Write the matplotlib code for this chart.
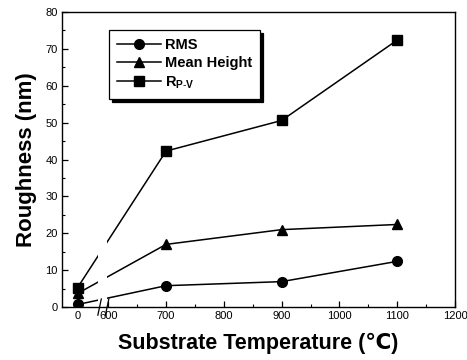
import numpy as np
import matplotlib
matplotlib.use("Agg")
import matplotlib.pyplot as plt

plt.rcParams["font.family"] = ["Liberation Sans", "DejaVu Sans"]
plt.rcParams["mathtext.fontset"] = "custom"
plt.rcParams["mathtext.rm"] = "Liberation Sans"
plt.rcParams["mathtext.bf"] = "Liberation Sans:bold"

# data
temperature = [0, 700, 900, 1100]
rms = [0.7, 5.8, 6.9, 12.4]
mean_height = [3.7, 17.0, 21.0, 22.4]
r_pv = [5.3, 42.3, 50.6, 72.4]

x_ticks = [0, 600, 700, 800, 900, 1000, 1100, 1200]
y_ticks = [0, 10, 20, 30, 40, 50, 60, 70, 80]

# broken axis: 0 is drawn just left of 600
ZERO_POS = 547


def to_pos(t):
    t = np.asarray(t, dtype=float)
    return np.where(t < 600, ZERO_POS + t, t)


fig = plt.figure(figsize=(4.67, 3.6), dpi=100)
ax = fig.add_axes([0.1328, 0.147, 0.8415, 0.8195])

series = [("RMS", rms, "o", 7.0),
          ("Mean Height", mean_height, "^", 7.5),
          (r"R$_{\mathbf{P\text{-}V}}$", r_pv, "s", 6.5)]
for label, vals, mk, ms in series:
    ax.plot(to_pos(temperature), vals, color="black", lw=1.1, marker=mk,
            ms=ms, label=label, zorder=2)

# gap in the connecting lines at the break
ax.axvspan(583, 597, color="white", zorder=2.1, lw=0)

ax.set_xlim(520, 1200)
ax.set_ylim(0, 80)
ax.set_xticks(to_pos(x_ticks))
ax.set_xticklabels([str(t) for t in x_ticks])
ax.set_xticks(np.arange(650, 1200, 100), minor=True)
ax.set_yticks(y_ticks)
ax.set_yticks(np.arange(5, 80, 10), minor=True)
ax.tick_params(direction="in", length=4, width=0.9, labelsize=8, pad=3)
ax.tick_params(which="minor", direction="in", length=2, width=0.8)
for s in ax.spines.values():
    s.set_linewidth(1.0)

# break marks on the x axis
for xb in (585, 598):
    ax.plot([xb - 3, xb + 3], [-2.2, 2.2], color="black", lw=0.9,
            clip_on=False, zorder=3)

ax.set_ylabel("Roughness (nm)", fontsize=16, fontweight="bold", labelpad=6)
ax.set_xlabel("Substrate Temperature (\u2103)", fontsize=15.5,
              fontweight="bold", labelpad=8)

leg = ax.legend(loc="upper left", bbox_to_anchor=(0.12, 0.94),
                prop={"weight": "bold", "size": 10.5}, fancybox=False,
                shadow={"color": "black", "alpha": 1}, edgecolor="black",
                framealpha=1, handlelength=3.0, borderpad=0.55,
                labelspacing=0.3, handletextpad=0.25, borderaxespad=0)
leg.get_frame().set_linewidth(0.9)

fig.savefig("out.png", dpi=100)
